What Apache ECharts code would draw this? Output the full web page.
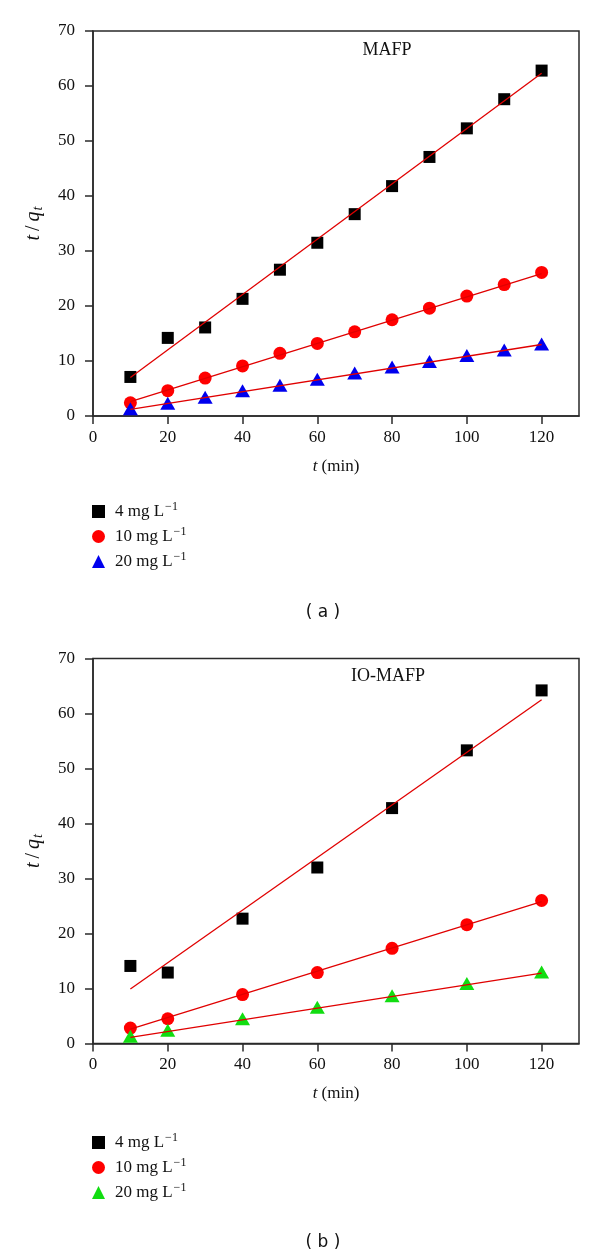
<!DOCTYPE html>
<html>
<head>
<meta charset="utf-8">
<script src="https://cdn.jsdelivr.net/npm/echarts@6/dist/echarts.min.js"></script>
<style>
  html, body { margin: 0; padding: 0; background: #fff; }
  #main { width: 600px; height: 1259px; }
</style>
</head>
<body>
<div id="main"></div>
<script>
// panel (a) MAFP
var timeA = [10, 20, 30, 40, 50, 60, 70, 80, 90, 100, 110, 120];
var a4  = [7.1, 14.2, 16.1, 21.3, 26.6, 31.5, 36.7, 41.8, 47.1, 52.3, 57.6, 62.8];
var a10 = [2.4, 4.6, 6.9, 9.1, 11.4, 13.2, 15.3, 17.5, 19.6, 21.8, 23.9, 26.1];
var a20 = [1.3, 2.3, 3.4, 4.6, 5.6, 6.7, 7.8, 8.9, 9.9, 11.0, 12.0, 13.1];

// panel (b) IO-MAFP
var timeB = [10, 20, 40, 60, 80, 100, 120];
var b4  = [14.1, 12.9, 22.7, 32.0, 42.8, 53.3, 64.2];
var b10 = [2.8, 4.5, 8.9, 12.9, 17.3, 21.6, 26.0];
var b20 = [1.3, 2.4, 4.5, 6.6, 8.7, 10.9, 13.0];

// fitted lines (end points)
var fitX = [10, 120];
var fitA4 = [7.0, 62.3], fitA10 = [2.6, 25.9], fitA20 = [1.2, 13.0];
var fitB4 = [9.9, 62.5], fitB10 = [2.6, 25.8], fitB20 = [1.1, 12.8];

var xTicks = [0, 20, 40, 60, 80, 100, 120];
var legendLabels = { '4': '4 mg L', '10': '10 mg L', '20': '20 mg L' };

var serif = '"Liberation Serif", "DejaVu Serif", serif';
var axisColor = '#2a2a2a';

var chart = echarts.init(document.getElementById('main'));

function pairs(xs, ys) {
  return xs.map(function (x, i) { return [x, ys[i]]; });
}

function xAxisFor(idx) {
  return {
    type: 'value', gridIndex: idx, min: 0, max: 130,
    name: '{i|t}{n| (min)}', nameLocation: 'middle', nameGap: 42,
    nameTextStyle: {
      fontFamily: serif, fontSize: 17, color: '#111',
      rich: {
        i: { fontFamily: serif, fontSize: 17, fontStyle: 'italic', color: '#111' },
        n: { fontFamily: serif, fontSize: 17, color: '#111' }
      }
    },
    axisLine: { lineStyle: { color: axisColor, width: 1.5 } },
    axisTick: { length: 8, customValues: xTicks, lineStyle: { color: axisColor, width: 1.5 } },
    axisLabel: { customValues: xTicks, margin: 13, fontFamily: serif, fontSize: 17, color: '#111' },
    splitLine: { show: false }
  };
}

function yAxisFor(idx) {
  return {
    type: 'value', gridIndex: idx, min: 0, max: 70, interval: 10,
    name: '{i|t}{n|\u2009/\u2009}{i|q}{s|t}', nameLocation: 'middle', nameGap: 48,
    nameTextStyle: {
      fontFamily: serif, fontSize: 20, color: '#111',
      rich: {
        i: { fontFamily: serif, fontSize: 20, fontStyle: 'italic', color: '#111' },
        n: { fontFamily: serif, fontSize: 20, color: '#111' },
        s: { fontFamily: serif, fontSize: 14, fontStyle: 'italic', color: '#111', padding: [8, 0, 0, 1] }
      }
    },
    axisLine: { lineStyle: { color: axisColor, width: 1.5 } },
    axisTick: { length: 8, lineStyle: { color: axisColor, width: 1.5 } },
    axisLabel: { margin: 18, fontFamily: serif, fontSize: 17, color: '#111' },
    splitLine: { show: false }
  };
}

function scatter(name, idx, xs, ys, symbol, size, color) {
  return {
    name: name, type: 'scatter', xAxisIndex: idx, yAxisIndex: idx,
    symbol: symbol, symbolSize: size, itemStyle: { color: color, opacity: 1 },
    data: pairs(xs, ys), z: 2
  };
}

function fit(idx, ys) {
  return {
    type: 'line', xAxisIndex: idx, yAxisIndex: idx, symbol: 'none',
    lineStyle: { color: '#e00000', width: 1.3 }, data: pairs(fitX, ys), z: 3,
    silent: true
  };
}

function legendFor(names, top) {
  return {
    data: names, orient: 'vertical', left: 92, top: top, padding: 0,
    itemWidth: 13, itemHeight: 13, itemGap: 6,
    formatter: function (n) { return '{n|' + legendLabels[n.split('_')[1]] + '}{s|\u22121}'; },
    textStyle: {
      padding: [0, 0, 0, 5],
      rich: {
        n: { fontFamily: serif, fontSize: 17, color: '#111' },
        s: { fontFamily: serif, fontSize: 12, color: '#111', padding: [0, 0, 9, 1] }
      }
    }
  };
}

var option = {
  animation: false,
  backgroundColor: '#fff',
  grid: [
    { left: 93, top: 31, width: 486, height: 385, show: true, borderColor: axisColor, borderWidth: 1.5, backgroundColor: 'transparent' },
    { left: 93, top: 658.5, width: 486, height: 385, show: true, borderColor: axisColor, borderWidth: 1.5, backgroundColor: 'transparent' }
  ],
  xAxis: [xAxisFor(0), xAxisFor(1)],
  yAxis: [yAxisFor(0), yAxisFor(1)],
  legend: [
    legendFor(['a_4', 'a_10', 'a_20'], 501),
    legendFor(['b_4', 'b_10', 'b_20'], 1132)
  ],
  graphic: [
    { type: 'text', x: 387, y: 50, style: { text: 'MAFP', font: '18px ' + serif, fill: '#111', textAlign: 'center', textVerticalAlign: 'middle' } },
    { type: 'text', x: 388, y: 676, style: { text: 'IO-MAFP', font: '18px ' + serif, fill: '#111', textAlign: 'center', textVerticalAlign: 'middle' } },
    { type: 'text', x: 323, y: 613, style: { text: '( a )', font: '17px "DejaVu Sans", sans-serif', fill: '#111', textAlign: 'center', textVerticalAlign: 'middle' } },
    { type: 'text', x: 323, y: 1243, style: { text: '( b )', font: '17px "DejaVu Sans", sans-serif', fill: '#111', textAlign: 'center', textVerticalAlign: 'middle' } }
  ],
  series: [
    scatter('a_4', 0, timeA, a4, 'rect', 12, '#000000'),
    scatter('a_10', 0, timeA, a10, 'circle', 13, '#ff0000'),
    scatter('a_20', 0, timeA, a20, 'triangle', [15, 13], '#0000ee'),
    fit(0, fitA4), fit(0, fitA10), fit(0, fitA20),
    scatter('b_4', 1, timeB, b4, 'rect', 12, '#000000'),
    scatter('b_10', 1, timeB, b10, 'circle', 13, '#ff0000'),
    scatter('b_20', 1, timeB, b20, 'triangle', [15, 13], '#11dd11'),
    fit(1, fitB4), fit(1, fitB10), fit(1, fitB20)
  ]
};

chart.setOption(option);
</script>
</body>
</html>
